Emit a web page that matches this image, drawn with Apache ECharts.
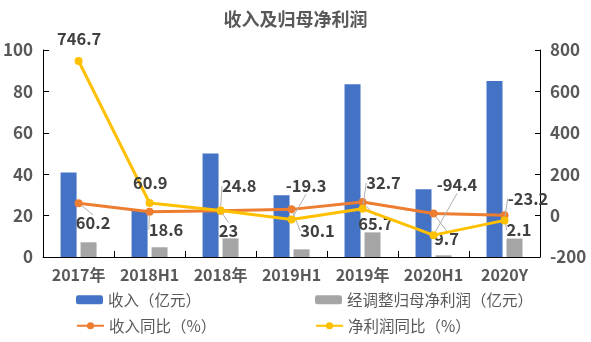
<!DOCTYPE html>
<html>
<head>
<meta charset="utf-8">
<script src="https://cdn.jsdelivr.net/npm/echarts@6/dist/echarts.min.js"></script>
<style>
html,body{margin:0;padding:0;background:#fff;}
#chart{width:591px;height:342px;}
</style>
</head>
<body>
<div id="chart"></div>
<script>
// ---- data ----
var categories = ['2017年', '2018H1', '2018年', '2019H1', '2019年', '2020H1', '2020Y'];
var revenue = [40.8, 22.5, 50.0, 29.8, 83.5, 32.7, 85.0];          // 收入（亿元）
var adjNetProfit = [7.1, 4.7, 9.0, 3.7, 11.9, 0.8, 8.9];          // 经调整归母净利润（亿元）
var revenueYoY = [60.2, 18.6, 23, 30.1, 65.7, 9.7, 2.1];          // 收入同比（%）
var netProfitYoY = [746.7, 60.9, 24.8, -19.3, 32.7, -94.4, -23.2]; // 净利润同比（%）
var leftTicks = {min: 0, max: 100, interval: 20};
var rightTicks = {min: -200, max: 800, interval: 200};

// ---- label layout (offsets of label centres from their points, px) ----
var revYoYLabelOffsets = [[14.5, 20], [16.5, 18], [8, 20], [26, 21.5], [13, 22], [13, 25.5], [14.5, 15]];
var npYoYLabelOffsets = [[0.5, -22], [0.7, -20.6], [18.7, -24.3], [14.5, -33.6], [21, -26], [23.5, -50], [23.5, -22]];
var npNoLeader = [true, true, false, false, false, false, false];

var FONT = '"Noto Sans CJK SC", "Noto Sans", sans-serif';
var TXT = '#595959';

function withLeader(values, noLeader) {
  return values.map(function (v, i) {
    return noLeader && noLeader[i] ? {value: v, labelLine: {show: false}} : {value: v};
  });
}

var chart = echarts.init(document.getElementById('chart'), null, {renderer: 'canvas'});
var labelStyle = {show: true, position: 'inside', fontSize: 16.5, fontWeight: 'bold', color: '#404040', fontFamily: FONT};
var leaderStyle = {show: true, lineStyle: {color: '#b0b0b0', width: 1}};

chart.setOption({
  animation: false,
  backgroundColor: '#fff',
  textStyle: {fontFamily: FONT},
  title: {
    text: '收入及归母净利润', left: 'center', top: 10, padding: 0,
    textStyle: {fontSize: 18, fontWeight: 'bold', color: TXT, fontFamily: FONT}
  },
  legend: [
    {data: ['收入（亿元）'], left: 76, top: 292},
    {data: ['经调整归母净利润（亿元）'], left: 315, top: 292},
    {data: ['收入同比（%）'], left: 76, top: 318},
    {data: ['净利润同比（%）'], left: 315, top: 318}
  ].map(function (l) {
    l.padding = 0; l.itemWidth = 27; l.itemHeight = 9; l.itemGap = 5;
    l.textStyle = {fontSize: 15.5, color: TXT, fontFamily: FONT};
    return l;
  }),
  grid: {left: 41, right: 51, top: 50, bottom: 85, containLabel: false},
  xAxis: {
    type: 'category', data: categories,
    axisLine: {show: true, lineStyle: {color: '#000', width: 1}},
    axisTick: {show: true, inside: true, length: 6, alignWithLabel: false, lineStyle: {color: '#000'}},
    axisLabel: {fontSize: 16, fontWeight: 'bold', color: TXT, margin: 10, interval: 0, fontFamily: FONT}
  },
  yAxis: [
    {
      type: 'value', min: leftTicks.min, max: leftTicks.max, interval: leftTicks.interval,
      axisLine: {show: true, lineStyle: {color: '#000', width: 1}},
      axisTick: {show: true, inside: true, length: 6, lineStyle: {color: '#000'}},
      splitLine: {show: false},
      axisLabel: {fontSize: 17, fontWeight: 'bold', color: TXT, margin: 10, fontFamily: FONT}
    },
    {
      type: 'value', min: rightTicks.min, max: rightTicks.max, interval: rightTicks.interval,
      axisLine: {show: true, lineStyle: {color: '#000', width: 1}},
      axisTick: {show: true, inside: true, length: 5, lineStyle: {color: '#000'}},
      splitLine: {show: false},
      axisLabel: {fontSize: 17, fontWeight: 'bold', color: TXT, margin: 10, fontFamily: FONT}
    }
  ],
  series: [
    {
      name: '收入（亿元）', type: 'bar', data: revenue, yAxisIndex: 0,
      barWidth: 16, barGap: '25%', itemStyle: {color: '#4472C4'}
    },
    {
      name: '经调整归母净利润（亿元）', type: 'bar', data: adjNetProfit, yAxisIndex: 0,
      barWidth: 16, barGap: '25%', itemStyle: {color: '#A5A5A5'}
    },
    {
      name: '收入同比（%）', type: 'line', yAxisIndex: 1, data: withLeader(revenueYoY),
      symbol: 'circle', symbolSize: 8, z: 3,
      lineStyle: {color: '#ED7D31', width: 3}, itemStyle: {color: '#ED7D31'},
      label: labelStyle, labelLine: leaderStyle,
      labelLayout: function (p) { var o = revYoYLabelOffsets[p.dataIndex]; return {dx: o[0], dy: o[1]}; }
    },
    {
      name: '净利润同比（%）', type: 'line', yAxisIndex: 1, data: withLeader(netProfitYoY, npNoLeader),
      symbol: 'circle', symbolSize: 8, z: 4,
      lineStyle: {color: '#FFC000', width: 3}, itemStyle: {color: '#FFC000'},
      label: labelStyle, labelLine: leaderStyle,
      labelLayout: function (p) { var o = npYoYLabelOffsets[p.dataIndex]; return {dx: o[0], dy: o[1]}; }
    }
  ]
});
</script>
</body>
</html>
